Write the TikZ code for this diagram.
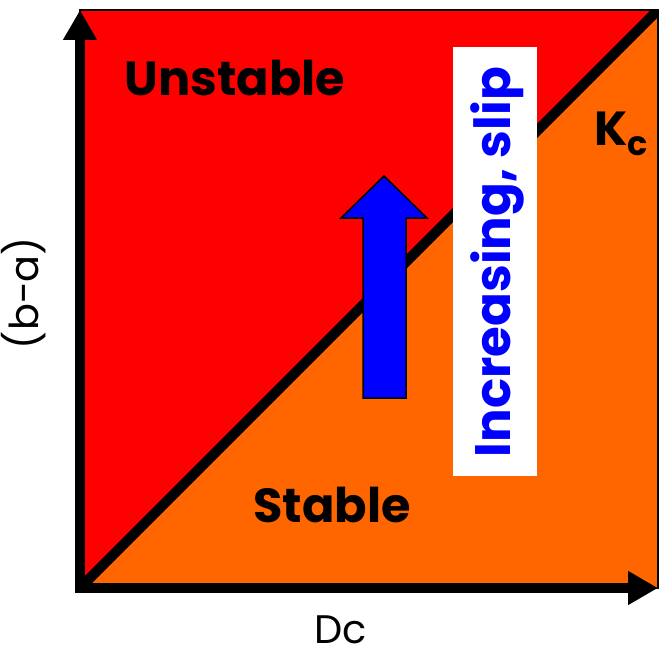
\documentclass[tikz,border=0pt]{standalone}
\usepackage{fontspec}
\setmainfont{Poppins}
\usetikzlibrary{arrows.meta}
\definecolor{unst}{HTML}{FF0000}
\definecolor{stab}{HTML}{FF6600}
\definecolor{blu}{HTML}{0000FF}
\tikzset{
  axisline/.style={line width=10bp, -{Triangle[length=30bp,width=32bp]}},
  boldlabel/.style={font=\fontsize{48}{50}\selectfont\bfseries, text=black, inner sep=0pt},
  thinlabel/.style={font=\fontsize{40}{42}\selectfont, text=black, inner sep=0pt},
}
\begin{document}
\begin{tikzpicture}[x=1bp,y=-1bp]
\useasboundingbox (0,0) rectangle (660,662);
% regions
\coordinate (O) at (80,588);
\coordinate (TL) at (80,10);
\coordinate (TR) at (658,10);
\coordinate (BR) at (658,588);
\fill[unst, draw=black, line width=1.2bp] (O) -- (TL) -- (TR) -- (BR) -- cycle;
\fill[stab] (O) -- (BR) -- (TR) -- cycle;
\draw[black, line width=1.2bp] (TR) -- (BR);
\begin{scope}
\clip (O) rectangle (TR);
\draw[line width=10bp] (O) -- (TR);
\end{scope}
% axes
\coordinate (Ystart) at (80,593);
\coordinate (Yend) at (80,10);
\coordinate (Xstart) at (75,588);
\coordinate (Xend) at (658,588);
\draw[axisline] (Ystart) -- (Yend);
\draw[axisline] (Xstart) -- (Xend);
% blue arrow
\filldraw[fill=blu, draw=black, line width=1.5bp]
  (384,176) -- (427,218) -- (406,218) -- (406,398) -- (363,398) -- (363,218) -- (341,218) -- cycle;
% white box with label
\node[fill=white, minimum width=84bp, minimum height=429bp, inner sep=0pt] (box) at (495,261.5) {};
\node[rotate=90, font=\fontsize{50}{52}\selectfont\bfseries, text=blu, inner sep=0pt] (inc) at (497,262) {Increasing, slip};
% labels
\node[boldlabel] (unstable) at (235,78) {Unstable};
\node[boldlabel] (stable) at (332,505) {Stable};
\node[boldlabel, anchor=west] (kc) at (594,134) {K\textsubscript{c}};
\node[thinlabel, rotate=90] (ba) at (24,293) {(b-a)};
\node[thinlabel] (dc) at (341,630) {Dc};
\end{tikzpicture}
\end{document}
